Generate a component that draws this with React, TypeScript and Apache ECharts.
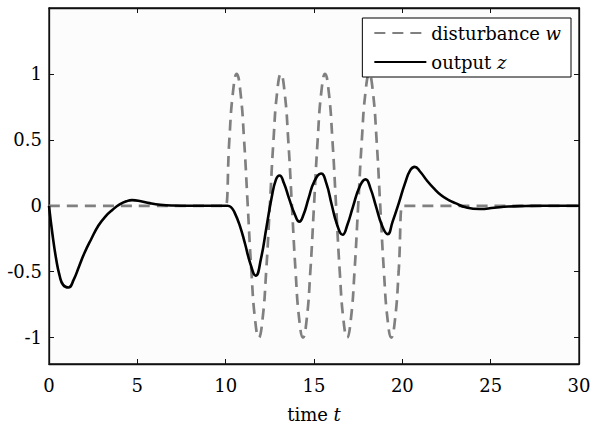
import React, { useEffect, useRef } from "react";
import * as echarts from "echarts";

const xTicks = [0, 5, 10, 15, 20, 25, 30];
const yTicks = [-1, -0.5, 0, 0.5, 1];

const wTime = [
  0, 9.9, 10, 10.208, 10.417, 10.625, 10.833, 11.042, 11.25, 11.458, 11.667, 11.875, 12.083, 12.292,
  12.5, 12.708, 12.917, 13.125, 13.333, 13.542, 13.75, 13.958, 14.167, 14.375, 14.583, 14.792,
  15, 15.208, 15.417, 15.625, 15.833, 16.042, 16.25, 16.458, 16.667, 16.875, 17.083, 17.292,
  17.5, 17.708, 17.917, 18.125, 18.333, 18.542, 18.75, 18.958, 19.167, 19.375, 19.583, 19.792,
  20, 20.1, 30,
];
const wValue = [
  0, 0, 0, 0.5, 0.866, 1, 0.866, 0.5, 0, -0.5, -0.866, -1, -0.866, -0.5,
  0, 0.5, 0.866, 1, 0.866, 0.5, 0, -0.5, -0.866, -1, -0.866, -0.5,
  0, 0.5, 0.866, 1, 0.866, 0.5, 0, -0.5, -0.866, -1, -0.866, -0.5,
  0, 0.5, 0.866, 1, 0.866, 0.5, 0, -0.5, -0.866, -1, -0.866, -0.5,
  0, 0, 0,
];

const zTime = [
  0, 0.2, 0.4, 0.6, 0.8, 1.1, 1.4, 1.7, 2.0, 2.4, 2.8, 3.2, 3.6, 4.0, 4.4, 4.7, 5.2, 5.7, 6.3, 7.0, 8.0,
  10.1, 10.3, 10.5, 10.8, 11.1, 11.4, 11.7, 12.0, 12.3, 12.6, 12.85, 13.05, 13.3, 13.6, 13.9, 14.17,
  14.4, 14.7, 15.0, 15.4, 15.7, 16.0, 16.3, 16.62, 16.9, 17.2, 17.6, 17.92, 18.2, 18.5, 18.85, 19.17,
  19.45, 19.8, 20.15, 20.45, 20.7, 21.0, 21.4, 21.8, 22.2, 22.6, 23.0, 23.6, 24.4, 25.2, 26.0, 27.0, 28.0, 30.0,
];
const zValue = [
  0, -0.22, -0.4, -0.53, -0.6, -0.62, -0.56, -0.46, -0.36, -0.25, -0.15, -0.08, -0.03, 0.01, 0.035, 0.043, 0.035, 0.02, 0.008, 0.002, 0,
  0, -0.01, -0.05, -0.15, -0.29, -0.44, -0.53, -0.4, -0.17, 0.06, 0.2, 0.23, 0.17, 0.05, -0.06, -0.12,
  -0.07, 0.06, 0.18, 0.245, 0.17, 0.01, -0.14, -0.22, -0.14, -0.01, 0.15, 0.2, 0.13, 0.0, -0.15, -0.215,
  -0.12, 0.02, 0.17, 0.27, 0.295, 0.26, 0.19, 0.13, 0.08, 0.045, 0.02, -0.012, -0.025, -0.015, -0.006, -0.002, 0, 0,
];

const FONT = "DejaVu Serif";
const FS = 18;

export default function App() {
  const ref = useRef<HTMLDivElement>(null);
  useEffect(() => {
    if (!ref.current) return;
    const chart = echarts.init(ref.current, null, { renderer: "svg" });
    const axisLine = { show: true, onZero: false, lineStyle: { color: "#111", width: 1.3 } };
    const tickStyle = { show: true, inside: true, length: 5, lineStyle: { color: "#111", width: 1 } };
    const italic = { fontFamily: FONT, fontStyle: "italic", fontSize: FS, color: "#000" };
    chart.setOption({
      animation: false,
      backgroundColor: "#ffffff",
      grid: {
        left: 49, right: 12, top: 8, bottom: 62,
        outerBoundsMode: "none", containLabel: false,
        show: true, backgroundColor: "#fcfcfc", borderColor: "#111", borderWidth: 1.3,
      },
      legend: {
        right: 20, top: 18, orient: "vertical",
        backgroundColor: "#ffffff", borderColor: "#000", borderWidth: 1, borderRadius: 0,
        padding: [5, 10, 5, 11], itemWidth: 52, itemHeight: 20, itemGap: 9,
        itemStyle: { opacity: 0 },
        data: ["disturbance", "output"],
        formatter: (name: string) => (name === "disturbance" ? "disturbance {i|w}" : "output {i|z}"),
        textStyle: {
          fontFamily: FONT, fontSize: FS, color: "#000", lineHeight: 20,
          rich: { i: { ...italic, lineHeight: 20 } },
        },
      },
      xAxis: [
        {
          type: "value", min: 0, max: 30, interval: 5,
          axisLine, axisTick: tickStyle, splitLine: { show: false },
          axisLabel: { fontFamily: FONT, fontSize: FS, color: "#000", margin: 12 },
          name: "time {i|t}", nameLocation: "middle", nameGap: 41,
          nameTextStyle: {
            fontFamily: FONT, fontSize: FS, color: "#000",
            rich: { i: italic },
          },
        },
        {
          type: "value", min: 0, max: 30, interval: 5, position: "top",
          axisLine, axisTick: tickStyle, splitLine: { show: false }, axisLabel: { show: false },
        },
      ],
      yAxis: [
        {
          type: "value", min: -1.2, max: 1.5,
          axisLine, splitLine: { show: false },
          axisTick: { ...tickStyle, customValues: yTicks },
          axisLabel: { fontFamily: FONT, fontSize: FS, color: "#000", margin: 7, customValues: yTicks },
        },
        {
          type: "value", min: -1.2, max: 1.5, position: "right",
          axisLine, splitLine: { show: false },
          axisTick: { ...tickStyle, customValues: yTicks },
          axisLabel: { show: false },
        },
      ],
      series: [
        {
          name: "disturbance", type: "line", smooth: 0.5, symbol: "none",
          data: wTime.map((t, i) => [t, wValue[i]]),
          lineStyle: { color: "#808080", width: 2.7, type: [11, 7] },
          itemStyle: { color: "#808080" },
          z: 2,
        },
        {
          name: "output", type: "line", smooth: 0.5, symbol: "none",
          data: zTime.map((t, i) => [t, zValue[i]]),
          lineStyle: { color: "#000", width: 2.6 },
          itemStyle: { color: "#000" },
          z: 3,
        },
      ],
    });
    return () => chart.dispose();
  }, []);
  return <div ref={ref} style={{ width: 591, height: 426, position: "absolute", left: 0, top: 0 }} />;
}
